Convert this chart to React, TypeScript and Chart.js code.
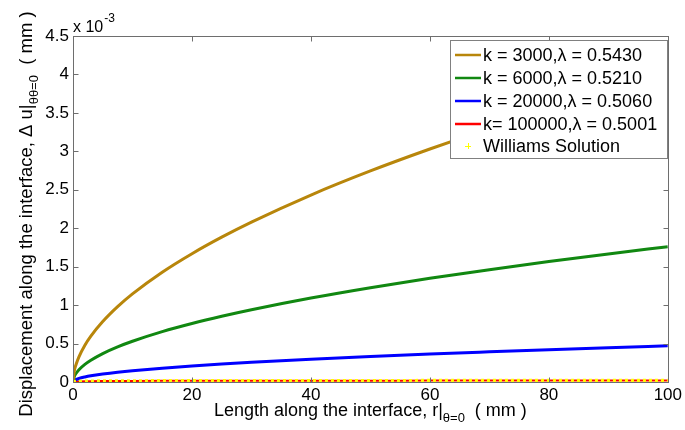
import React, { useEffect, useRef } from "react";
import { Chart, registerables } from "chart.js";

Chart.register(...registerables);

// ---- data (displacement in units of 1e-3 mm) ----
const rValues = [0, 0.25, 0.5, 1, 2, 3, 5, 7.5, 10, 15, 20, 25, 30, 40, 50, 60, 70, 80, 90, 100];
const k3000 = [0, 0.155, 0.225, 0.328, 0.478, 0.596, 0.786, 0.98, 1.146, 1.428, 1.669, 1.884, 2.08, 2.432, 2.745, 3.03, 3.296, 3.544, 3.778, 4.02];
const k6000 = [0, 0.078, 0.111, 0.16, 0.229, 0.283, 0.37, 0.457, 0.53, 0.655, 0.761, 0.855, 0.94, 1.092, 1.227, 1.349, 1.461, 1.567, 1.666, 1.76];
const k20000 = [0, 0.023, 0.032, 0.046, 0.065, 0.08, 0.103, 0.127, 0.147, 0.18, 0.208, 0.233, 0.256, 0.296, 0.331, 0.363, 0.392, 0.42, 0.446, 0.47];
const k100000 = [0, 0.004, 0.006, 0.008, 0.01, 0.011, 0.012, 0.013, 0.014, 0.015, 0.015, 0.016, 0.016, 0.017, 0.017, 0.018, 0.018, 0.018, 0.019, 0.019];
const williams = [0, 0.004, 0.006, 0.008, 0.01, 0.011, 0.012, 0.013, 0.014, 0.015, 0.015, 0.016, 0.016, 0.017, 0.017, 0.018, 0.018, 0.018, 0.019, 0.019];

const seriesLabels = [
  "k = 3000,\u03bb = 0.5430",
  "k = 6000,\u03bb = 0.5210",
  "k = 20000,\u03bb = 0.5060",
  "k= 100000,\u03bb = 0.5001",
  "Williams Solution",
];
const seriesColors = ["#B8860B", "#118811", "#0000FF", "#FF0000", "#FFFF00"];

const xTickStep = 20;
const yTickStep = 0.5;
const xMin = 0, xMax = 100;
const yMin = 0, yMax = 4.5;

const xTitleMain = "Length along the interface, r|";
const xTitleSub = "\u03b8=0";
const xTitleTail = "  ( mm )";
const yTitleMain = "Displacement along the interface, \u0394 u|";
const yTitleSub = "\u03b8\u03b8=0";
const yTitleTail = "  ( mm )";
const exponentBase = "x 10";
const exponentPow = "-3";

const FONT = '"Liberation Sans", Arial, Helvetica, sans-serif';

function drawSegments(ctx: CanvasRenderingContext2D, segs: { t: string; size: number; dy: number }[], cx: number, cy: number) {
  let total = 0;
  const widths = segs.map((s) => {
    ctx.font = `${s.size}px ${FONT}`;
    const w = ctx.measureText(s.t).width;
    total += w;
    return w;
  });
  let x = cx - total / 2;
  segs.forEach((s, i) => {
    ctx.font = `${s.size}px ${FONT}`;
    ctx.fillText(s.t, x, cy + s.dy);
    x += widths[i];
  });
}

const overlay = {
  id: "overlay",
  afterDraw(chart: any) {
    const { ctx, chartArea: a, scales } = chart;
    const xs = scales.x;
    const ys = scales.y;
    ctx.save();
    // frame
    ctx.strokeStyle = "#6e6e6e";
    ctx.lineWidth = 1;
    const L = Math.round(a.left) + 0.5, R = Math.round(a.right) + 0.5;
    const T = Math.round(a.top) + 0.5, B = Math.round(a.bottom) + 0.5;
    ctx.strokeRect(L, T, R - L, B - T);
    ctx.beginPath();
    xs.ticks.forEach((t: any) => {
      const px = Math.round(xs.getPixelForValue(t.value)) + 0.5;
      ctx.moveTo(px, B); ctx.lineTo(px, B - 5);
      ctx.moveTo(px, T); ctx.lineTo(px, T + 5);
    });
    ys.ticks.forEach((t: any) => {
      const py = Math.round(ys.getPixelForValue(t.value)) + 0.5;
      ctx.moveTo(L, py); ctx.lineTo(L + 5, py);
      ctx.moveTo(R, py); ctx.lineTo(R - 5, py);
    });
    ctx.stroke();

    // titles
    ctx.fillStyle = "#000";
    ctx.textBaseline = "alphabetic";
    ctx.textAlign = "left";
    drawSegments(ctx, [
      { t: xTitleMain, size: 18, dy: 0 },
      { t: xTitleSub, size: 13, dy: 6 },
      { t: xTitleTail, size: 18, dy: 0 },
    ], (a.left + a.right) / 2, 416);

    ctx.save();
    ctx.translate(32, 214);
    ctx.rotate(-Math.PI / 2);
    drawSegments(ctx, [
      { t: yTitleMain, size: 18.5, dy: 0 },
      { t: yTitleSub, size: 13, dy: 6 },
      { t: yTitleTail, size: 18.5, dy: 0 },
    ], 0, 0);
    ctx.restore();

    // exponent label
    ctx.font = `16px ${FONT}`;
    ctx.fillText(exponentBase, a.left, 32);
    const bw = ctx.measureText(exponentBase).width;
    ctx.font = `12px ${FONT}`;
    ctx.fillText(exponentPow, a.left + bw + 1, 22);

    // legend
    const lx = 450, ly = 40, lw = 217, lh = 118;
    ctx.fillStyle = "#fff";
    ctx.fillRect(lx, ly, lw, lh);
    ctx.strokeStyle = "#808080";
    ctx.strokeRect(lx + 0.5, ly + 0.5, lw, lh);
    const rowY = [55, 78, 101, 124, 146];
    ctx.font = `18px ${FONT}`;
    ctx.textBaseline = "middle";
    seriesLabels.forEach((lab, i) => {
      const y = rowY[i];
      if (i < 4) {
        ctx.strokeStyle = seriesColors[i];
        ctx.lineWidth = 2.5;
        ctx.beginPath();
        ctx.moveTo(455, y);
        ctx.lineTo(481, y);
        ctx.stroke();
      } else {
        ctx.strokeStyle = seriesColors[i];
        ctx.lineWidth = 1;
        ctx.beginPath();
        ctx.moveTo(465, y + 0.5); ctx.lineTo(471, y + 0.5);
        ctx.moveTo(468.5, y - 3); ctx.lineTo(468.5, y + 3);
        ctx.stroke();
      }
      ctx.fillStyle = "#000";
      ctx.fillText(lab, 483, y + 1);
    });
    ctx.restore();
  },
};

export default function App() {
  const ref = useRef<HTMLCanvasElement | null>(null);
  useEffect(() => {
    if (!ref.current) return;
    const series = [k3000, k6000, k20000, k100000, williams];
    const datasets = series.map((vals, i) => ({
      label: seriesLabels[i],
      data: rValues.map((r, j) => ({ x: r, y: vals[j] })),
      borderColor: seriesColors[i],
      backgroundColor: seriesColors[i],
      borderWidth: i === 4 ? 3.5 : i === 3 ? 2 : 3,
      borderDash: i === 4 ? [3, 3] : [],
      pointRadius: 0,
      fill: false,
      cubicInterpolationMode: "monotone" as const,
      order: i === 4 ? 0 : 1,
    }));
    const chart = new Chart(ref.current, {
      type: "line",
      data: { datasets },
      options: {
        animation: false,
        responsive: false,
        devicePixelRatio: 1,
        layout: { padding: { top: 36, right: 15, left: 0, bottom: 0 } },
        plugins: { legend: { display: false }, tooltip: { enabled: false } },
        scales: {
          x: {
            type: "linear",
            min: xMin,
            max: xMax,
            ticks: {
              stepSize: xTickStep,
              font: { family: FONT, size: 17 },
              color: "#000",
              padding: 3,
              maxRotation: 0,
              callback: (v: any) => String(v),
            },
            grid: { display: false, drawTicks: false },
            border: { display: false },
            afterFit: (s: any) => { s.height = 48; },
          },
          y: {
            type: "linear",
            min: yMin,
            max: yMax,
            ticks: {
              stepSize: yTickStep,
              font: { family: FONT, size: 17 },
              color: "#000",
              padding: 4,
              callback: (v: any) => String(v),
            },
            grid: { display: false, drawTicks: false },
            border: { display: false },
            afterFit: (s: any) => { s.width = 73; },
          },
        },
      },
      plugins: [overlay],
    });
    return () => chart.destroy();
  }, []);
  return (
    <div style={{ position: "absolute", left: 0, top: 0, width: 685, height: 430, background: "#fff" }}>
      <canvas ref={ref} width={685} height={430} />
    </div>
  );
}
